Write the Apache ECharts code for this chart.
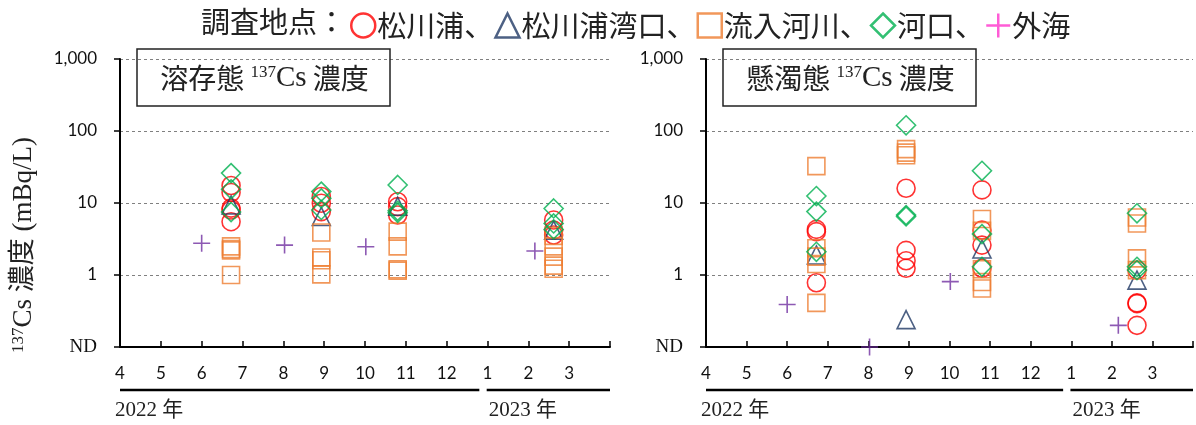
<!DOCTYPE html>
<html>
<head>
<meta charset="utf-8">
<script src="https://cdn.jsdelivr.net/npm/echarts@6/dist/echarts.min.js"></script>
<style>
  html, body { margin: 0; padding: 0; background: #fff; }
  #chart { width: 1196px; height: 425px; }
</style>
</head>
<body>
<div id="chart"></div>
<script>
// Sampling rounds on a month scale: 4 = Apr 2022 ... 12 = Dec 2022, 13 = Jan 2023 ...
const surveyMonths = [6.72, 8.93, 10.8, 14.62];
const offshoreMonths = [6.0, 8.03, 10.02, 14.16];
const ND = 0.1; // not detected: drawn on the "ND" row

// Dissolved 137Cs (mBq/L), one list of samples per sampling round
const dissolvedLagoon = [[17.5, 14, 8.5, 8, 5.5], [12.3, 9.9, 7.6], [10.4, 8.9, 6.8], [5.8, 4.2, 3.6]];
const dissolvedMouth = [[9.4], [6.5], [9.0], [4.2]];
const dissolvedRiver = [[2.5, 2.3, 2.2, 1.0], [3.9, 1.75, 1.6, 1.02], [4.0, 2.5, 1.2, 1.15], [3.5, 2.5, 1.8, 1.35, 1.22]];
const dissolvedEstuary = [[26, 15.5, 7.5], [14.4, 11.6, 8.0], [17.8, 7.8, 7.3], [8.4, 5.2, 4.3]];
const dissolvedOffshore = [2.76, 2.6, 2.47, 2.15];

// Suspended 137Cs (mBq/L)
const suspendedLagoon = [[4.3, 4.0, 0.78], [16, 2.2, 1.58, 1.24], [15.2, 4.2, 2.6, 1.24], [1.17, 0.41, 0.4, 0.2]];
const suspendedMouth = [[1.9], [0.24], [2.3], [0.85]];
const suspendedRiver = [[32.5, 2.35, 1.8, 1.42, 0.41], [56, 50, 46], [6.0, 4.1, 1.2, 0.8, 0.65], [6.3, 5.2, 1.7, 1.17]];
const suspendedEstuary = [[12.5, 7.6, 2.1], [120, 6.8, 6.5], [28, 3.7, 1.3], [7.2, 1.3, 1.17]];
const suspendedOffshore = [0.39, ND, 0.81, 0.2];

const siteNames = ['松川浦', '松川浦湾口', '流入河川', '河口', '外海'];
const panelTitles = ['溶存態', '懸濁態'];
const yearLabels = ['2022 年', '2023 年'];
const yearSpans = [[4, 12.8], [12.98, 16]];
const legendHeading = '調査地点：';

const PLUS = 'path://M0,8H16M8,0V16';
const siteSymbols = ['circle', 'triangle', 'rect', 'diamond', PLUS];
const siteColors = ['#FF0000', '#1F3864', '#ED7D31', '#00B050', '#7030A0'];
const legendColors = ['#FF0000', '#1F3864', '#ED7D31', '#00B050', '#FF33CC'];
const siteSizes = [18, 18, 17, 19, 17];

const serifCJK = "'Liberation Serif', 'Noto Sans CJK JP', serif";
const cjk = "'Noto Sans CJK JP', sans-serif";
const tickFont = "Lato, 'Liberation Sans', sans-serif";

const grids = [
  { left: 120, top: 59, width: 490, height: 288 },
  { left: 706, top: 59, width: 488, height: 288 }
];

function rounds(list) {
  const pts = [];
  list.forEach((vals, i) => vals.forEach(v => pts.push([surveyMonths[i], v])));
  return pts;
}
function offshore(list) {
  return list.map((v, i) => [offshoreMonths[i], v]);
}

const panelData = [
  [rounds(dissolvedLagoon), rounds(dissolvedMouth), rounds(dissolvedRiver), rounds(dissolvedEstuary), offshore(dissolvedOffshore)],
  [rounds(suspendedLagoon), rounds(suspendedMouth), rounds(suspendedRiver), rounds(suspendedEstuary), offshore(suspendedOffshore)]
];

const series = [];
panelData.forEach((sets, p) => {
  sets.forEach((data, s) => {
    series.push({
      type: 'scatter',
      name: siteNames[s],
      xAxisIndex: p,
      yAxisIndex: p,
      data: data,
      symbol: siteSymbols[s],
      symbolSize: siteSizes[s],
      itemStyle: { color: 'rgba(0,0,0,0)', borderColor: siteColors[s], borderWidth: 1.6 },
      emphasis: { disabled: true },
      z: 3 + s
    });
  });
});

const xAxes = grids.map((g, i) => ({
  gridIndex: i,
  type: 'value',
  min: 4, max: 16, interval: 1,
  axisLine: { show: true, lineStyle: { color: '#000', width: 2 } },
  axisTick: { show: true, inside: true, length: 6, lineStyle: { color: '#000', width: 1.5 } },
  axisLabel: {
    margin: 18, fontSize: 17, color: '#111', fontFamily: tickFont,
    formatter: v => (v >= 16 ? '' : String(v > 12 ? v - 12 : v))
  },
  splitLine: { show: false }
}));

const yAxes = grids.map((g, i) => ({
  gridIndex: i,
  type: 'log', logBase: 10,
  min: 0.1, max: 1000,
  axisLine: { show: true, lineStyle: { color: '#000', width: 2 } },
  axisTick: { show: true, inside: false, length: 6, lineStyle: { color: '#000', width: 1.5 } },
  axisLabel: {
    margin: 23, fontSize: 17, color: '#111', fontFamily: tickFont,
    formatter: v => {
      const e = Math.round(Math.log10(v));
      if (e <= -1) return '{nd|ND}';
      if (e >= 3) return '1,000';
      return String(Math.pow(10, e));
    },
    rich: { nd: { fontFamily: serifCJK, fontSize: 19, color: '#111' } }
  },
  splitLine: { show: true, lineStyle: { color: '#808080', width: 1, type: [3, 3] } }
}));

const legendData = siteNames.map((n, i) => ({
  name: n,
  icon: siteSymbols[i],
  itemStyle: { color: 'rgba(0,0,0,0)', borderColor: legendColors[i], borderWidth: 2.5 }
}));

const chart = echarts.init(document.getElementById('chart'), null, { renderer: 'canvas' });
chart.setOption({
  animation: false,
  backgroundColor: '#fff',
  grid: grids,
  xAxis: xAxes,
  yAxis: yAxes,
  legend: {
    left: 345, top: 6,
    itemWidth: 24, itemHeight: 24, itemGap: 1,
    selectedMode: false,
    textStyle: { fontSize: 29, color: '#222', fontFamily: cjk, padding: [0, 0, 0, -3] },
    formatter: name => (name === siteNames[siteNames.length - 1] ? name : name + '、'),
    data: legendData
  },
  series: series
});

// Panel titles, year bands and the shared y-axis title, placed from the axes
function decorations() {
  const els = [];
  els.push({
    type: 'text', x: 346, y: 22,
    style: { text: legendHeading, fontSize: 29, fontFamily: cjk, fill: '#222', align: 'right', verticalAlign: 'middle' }
  });
  const yearTextShift = [-5, 2];
  grids.forEach((g, i) => {
    const bx = g.left + 17, by = g.top - 10, bw = 253, bh = 57;
    els.push({
      type: 'rect', shape: { x: bx, y: by, width: bw, height: bh },
      style: { fill: 'rgba(0,0,0,0)', stroke: '#222', lineWidth: 1.5 }, z: 10
    });
    els.push({
      type: 'text', x: bx + bw / 2 + 1, y: by + bh / 2 + 1, z: 11,
      style: {
        text: '{a|' + panelTitles[i] + ' }{s|137}{c|Cs}{a| 濃度}',
        align: 'center', verticalAlign: 'middle',
        rich: {
          a: { fontSize: 28, fontFamily: cjk, fill: '#222' },
          s: { fontSize: 17, fontFamily: serifCJK, fill: '#222', verticalAlign: 'top' },
          c: { fontSize: 29, fontFamily: serifCJK, fill: '#222' }
        }
      }
    });
    const axisY = chart.convertToPixel({ gridIndex: i }, [4, 0.1])[1];
    yearSpans.forEach((span, k) => {
      const x0 = chart.convertToPixel({ gridIndex: i }, [span[0], 1])[0];
      const x1 = chart.convertToPixel({ gridIndex: i }, [span[1], 1])[0];
      els.push({
        type: 'line', shape: { x1: x0, y1: axisY + 43, x2: x1, y2: axisY + 43 },
        style: { stroke: '#000', lineWidth: 2.5 }
      });
      els.push({
        type: 'text', x: x0 + yearTextShift[k], y: axisY + 63,
        style: { text: yearLabels[k], fontSize: 21, fontFamily: serifCJK, fill: '#222', align: 'left', verticalAlign: 'middle' }
      });
    });
  });
  els.push({
    type: 'text', x: 24, y: 245, rotation: Math.PI / 2,
    style: {
      text: '{s|137}{c|Cs 濃度 (mBq/L)}',
      align: 'center', verticalAlign: 'middle',
      rich: {
        s: { fontSize: 17, fontFamily: serifCJK, fill: '#222', verticalAlign: 'top' },
        c: { fontSize: 27, fontFamily: serifCJK, fill: '#222' }
      }
    }
  });
  return els;
}
chart.setOption({ graphic: decorations() });
</script>
</body>
</html>
